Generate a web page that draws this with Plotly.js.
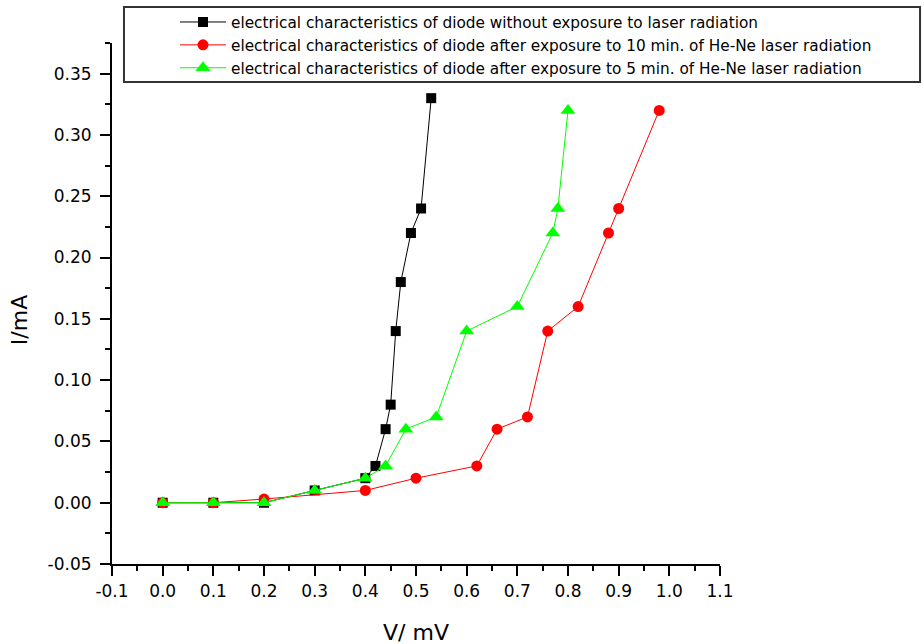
<!DOCTYPE html>
<html>
<head>
<meta charset="utf-8">
<script src="https://cdn.plot.ly/plotly-3.0.1.min.js"></script>
<style>html,body{margin:0;padding:0;background:#fff;}#chart{width:924px;height:644px;}</style>
</head>
<body>
<div id="chart"></div>
<script>
// Data
const vBlack = [0, 0.1, 0.2, 0.3, 0.4, 0.42, 0.44, 0.45, 0.46, 0.47, 0.49, 0.51, 0.53];
const iBlack = [0, 0, 0, 0.01, 0.02, 0.03, 0.06, 0.08, 0.14, 0.18, 0.22, 0.24, 0.33];
const vRed = [0, 0.1, 0.2, 0.4, 0.5, 0.62, 0.66, 0.72, 0.76, 0.82, 0.88, 0.9, 0.98];
const iRed = [0, 0, 0.003, 0.01, 0.02, 0.03, 0.06, 0.07, 0.14, 0.16, 0.22, 0.24, 0.32];
const vGreen = [0, 0.1, 0.2, 0.3, 0.4, 0.44, 0.48, 0.54, 0.6, 0.7, 0.77, 0.78, 0.8];
const iGreen = [0, 0, 0, 0.01, 0.02, 0.03, 0.06, 0.07, 0.14, 0.16, 0.22, 0.24, 0.32];
const seriesNames = [
  "electrical characteristics of diode without exposure to laser radiation",
  "electrical characteristics of diode after exposure to 10 min. of He-Ne laser radiation",
  "electrical characteristics of diode after exposure to 5 min. of He-Ne laser radiation"
];
const xTickVals = [-0.1, 0, 0.1, 0.2, 0.3, 0.4, 0.5, 0.6, 0.7, 0.8, 0.9, 1.0, 1.1];
const xTickText = ["-0.1", "0.0", "0.1", "0.2", "0.3", "0.4", "0.5", "0.6", "0.7", "0.8", "0.9", "1.0", "1.1"];
const yTickVals = [-0.05, 0, 0.05, 0.1, 0.15, 0.2, 0.25, 0.3, 0.35];
const yTickText = ["-0.05", "0.00", "0.05", "0.10", "0.15", "0.20", "0.25", "0.30", "0.35"];
const xTitle = "V/ mV";
const yTitle = "I/mA";

const FONT = "DejaVu Sans, Arial, sans-serif";

const traces = [
  {x: vBlack, y: iBlack, name: seriesNames[0], mode: "lines+markers",
   line: {color: "#000000", width: 1}, marker: {symbol: "square", size: 10, color: "#000000"}},
  {x: vRed, y: iRed, name: seriesNames[1], mode: "lines+markers",
   line: {color: "#ff0000", width: 1}, marker: {symbol: "circle", size: 11, color: "#ff0000"}},
  {x: vGreen, y: iGreen, name: seriesNames[2], mode: "lines+markers",
   line: {color: "#00ff00", width: 1}, marker: {symbol: "triangle-up", size: 13, color: "#00ff00"}}
];

const axisCommon = {
  showgrid: false, zeroline: false, showline: true, linecolor: "#000", linewidth: 2,
  ticks: "outside", ticklen: 10, tickwidth: 2, tickcolor: "#000",
  tickfont: {family: FONT, size: 17, color: "#000"}, tickmode: "array"
};

const layout = {
  width: 924, height: 644,
  margin: {l: 112, r: 204, t: 43, b: 80, pad: 0, autoexpand: false},
  paper_bgcolor: "#fff", plot_bgcolor: "#fff",
  showlegend: true,
  xaxis: Object.assign({}, axisCommon, {
    range: [-0.1, 1.1], tickvals: xTickVals, ticktext: xTickText, ticklabelstandoff: 1,
    minor: {ticks: "outside", ticklen: 5, tickwidth: 2, tickcolor: "#000", dtick: 0.05, tick0: -0.1, showgrid: false}
  }),
  yaxis: Object.assign({}, axisCommon, {
    range: [-0.05, 0.375], tickvals: yTickVals, ticktext: yTickText, ticklabelstandoff: 5,
    minor: {ticks: "outside", ticklen: 5, tickwidth: 2, tickcolor: "#000", dtick: 0.025, tick0: -0.05, showgrid: false}
  }),
  legend: {
    xref: "container", yref: "container",
    x: 0.1894, y: 0.9914, xanchor: "left", yanchor: "top",
    bgcolor: "rgba(0,0,0,0)", borderwidth: 0, itemwidth: 46,
    font: {family: FONT, size: 15.3, color: "#000"}, tracegroupgap: 0
  },
  shapes: [{
    type: "rect", xref: "paper", yref: "paper",
    x0: 0.0197, x1: 1.329, y0: 0.925, y1: 1.069,
    line: {color: "#333", width: 2}, fillcolor: "rgba(0,0,0,0)", layer: "below"
  }],
  annotations: [
    {text: xTitle, xref: "paper", yref: "paper", x: 0.5, y: -0.132, xanchor: "center", yanchor: "middle",
     showarrow: false, font: {family: FONT, size: 22, color: "#000"}},
    {text: yTitle, xref: "paper", yref: "paper", x: -0.153, y: 0.468, xanchor: "center", yanchor: "middle",
     textangle: -90, showarrow: false, font: {family: FONT, size: 22, color: "#000"}}
  ]
};

Plotly.newPlot("chart", traces, layout, {displayModeBar: false, staticPlot: true});
</script>
</body>
</html>
